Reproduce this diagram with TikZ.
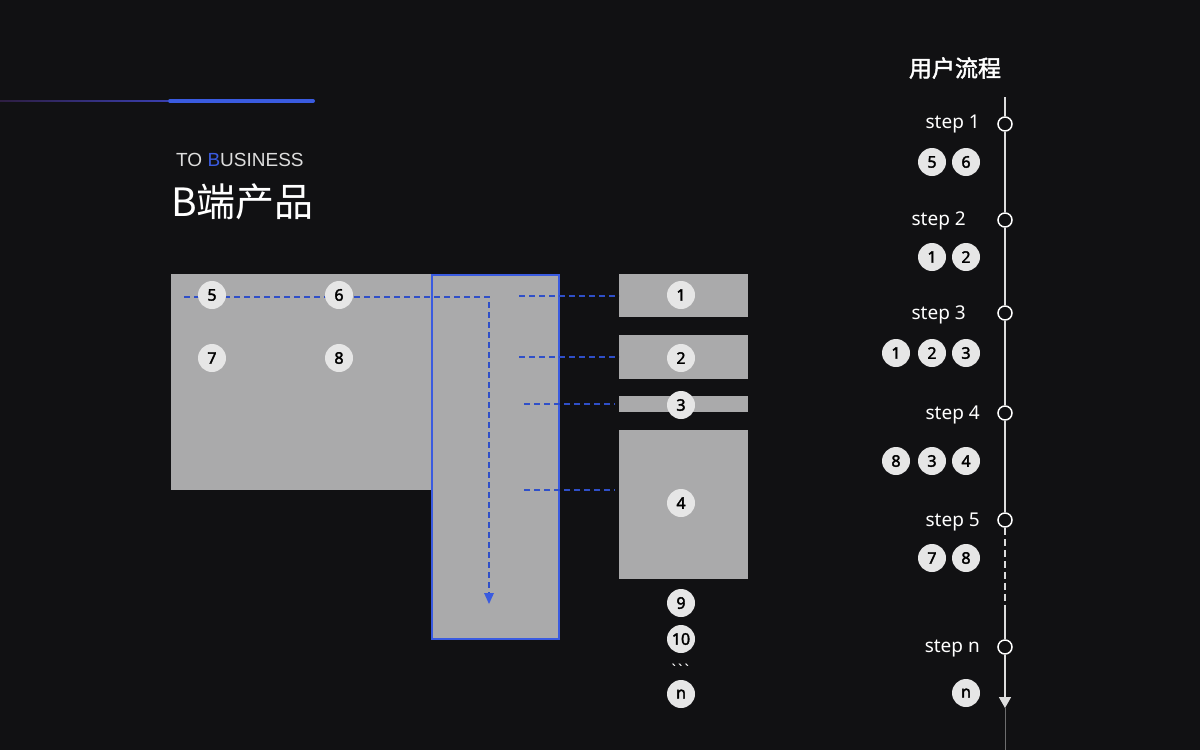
\documentclass[tikz,border=0pt]{standalone}
\usepackage{fontspec}
\setmainfont{Noto Sans}
\newfontfamily\cjk{Noto Sans CJK SC}
\newfontfamily\cjkb{Noto Sans CJK SC}[FakeBold=2]
\newfontfamily\lat{Liberation Sans}
\newfontfamily\plainf{DejaVu Sans}
\newfontfamily\badgef{Noto Sans}[FakeBold=2.2]
\usetikzlibrary{arrows.meta}
\definecolor{bg}{HTML}{111113}
\definecolor{panel}{HTML}{AAAAAB}
\definecolor{edgeblue}{HTML}{3A5BE0}
\definecolor{dashblue}{HTML}{2F4FC8}
\definecolor{badgefill}{HTML}{E6E6E6}
\definecolor{linegray}{HTML}{DDDDDD}
\definecolor{thinpurple}{HTML}{4A2A70}
\definecolor{thinblue}{HTML}{3A3FB0}
\begin{document}
\begin{tikzpicture}[x=1pt,y=-1pt,
  panelbox/.style={fill=panel,draw=none},
  badge/.style={circle,fill=badgefill,draw=none,minimum size=28pt,inner sep=0pt,
    font=\badgef\fontsize{16}{16}\selectfont,text=black},
  flowdash/.style={draw=dashblue,line width=1.3pt,dash pattern=on 6pt off 4pt},
  steplabel/.style={anchor=east,text=white,font=\fontsize{19}{19}\selectfont,inner sep=0pt},
  stepdot/.style={circle,draw=white,line width=1.5pt,fill=bg,minimum size=14pt,inner sep=0pt},
  tl/.style={draw=linegray,line width=1.6pt}]
\useasboundingbox (0,0) rectangle (1200,750);
\fill[bg] (0,0) rectangle (1200,750);

% top accent lines
\shade[left color=thinpurple!50!bg,right color=thinblue] (0,100.2) rectangle (168,101.8);
\draw[edgeblue,line width=4pt,line cap=round] (170,101) -- (313,101);

% title
\node[anchor=west,inner sep=0pt,text=linegray,font=\lat\fontsize{19}{19}\selectfont] (tb) at (176,160) {TO {\color{edgeblue}B}USINESS};
\node[anchor=west,inner sep=0pt,text=white,font=\cjk\fontsize{39}{39}\selectfont] (bt) at (171,202) {B端产品};

% panels
\node[panelbox,minimum width=260pt,minimum height=216pt,anchor=north west,inner sep=0pt] (main) at (171,274) {};
\node[fill=panel,draw=edgeblue,line width=2pt,minimum width=127pt,minimum height=364pt,anchor=north west,inner sep=0pt] (col) at (431,274) {};
\node[panelbox,minimum width=129pt,minimum height=43pt,anchor=north west,inner sep=0pt] (r1) at (619,274) {};
\node[panelbox,minimum width=129pt,minimum height=44pt,anchor=north west,inner sep=0pt] (r2) at (619,335) {};
\node[panelbox,minimum width=129pt,minimum height=16pt,anchor=north west,inner sep=0pt] (r3) at (619,396) {};
\node[panelbox,minimum width=129pt,minimum height=149pt,anchor=north west,inner sep=0pt] (r4) at (619,430) {};

% dashed flow path
\coordinate (fs) at (184,297);
\coordinate (fc) at (489,297);
\coordinate (fe) at (489,604);
\draw[flowdash] (fs) -- (fc) -- ([yshift=6pt]fe);
\draw[draw=none,fill=edgeblue] ([xshift=-5pt,yshift=11pt]fe) -- ([xshift=5pt,yshift=11pt]fe) -- (fe) -- cycle;

% connectors
\coordinate (c1) at (519,296); \coordinate (d1) at (619,296);
\coordinate (c2) at (519,357); \coordinate (d2) at (619,357);
\coordinate (c3) at (524,404); \coordinate (d3) at (615,404);
\coordinate (c4) at (524,490); \coordinate (d4) at (615,490);
\draw[flowdash] (c1) -- (d1);
\draw[flowdash] (c2) -- (d2);
\draw[flowdash] (c3) -- (d3);
\draw[flowdash] (c4) -- (d4);

% badges on panels
\node[badge] (b5) at (212,295) {5};
\node[badge] (b6) at (339,295) {6};
\node[badge] (b7) at (212,358) {7};
\node[badge] (b8) at (339,358) {8};
\node[badge] (b1) at (681,295) {1};
\node[badge] (b2) at (681,358) {2};
\node[badge] (b3) at (681,405) {3};
\node[badge] (b4) at (681,503) {4};
\node[badge] (b9) at (681,603) {9};
\node[badge] (b10) at (681,639) {10};
\node[text=white,inner sep=0pt,font=\plainf\bfseries\fontsize{13}{13}\selectfont] (dots) at (681,669) {```};
\node[badge] (bn) at (681,694) {n};

% timeline
\node[text=white,font=\cjkb\fontsize{23}{23}\selectfont,inner sep=0pt] (tt) at (955,68) {用户流程};
\coordinate (ttop) at (1005,97);
\node[stepdot] (s1) at (1005,124) {};
\node[stepdot] (s2) at (1005,220) {};
\node[stepdot] (s3) at (1005,313) {};
\node[stepdot] (s4) at (1005,413) {};
\node[stepdot] (s5) at (1005,520) {};
\node[stepdot] (s6) at (1005,647) {};
\coordinate (dend) at (1005,610);
\coordinate (tend) at (1005,708);
\coordinate (tbot) at (1005,750);
\draw[tl] (ttop) -- (s1);
\draw[tl] (s1) -- (s2);
\draw[tl] (s2) -- (s3);
\draw[tl] (s3) -- (s4);
\draw[tl] (s4) -- (s5);
\draw[tl,dash pattern=on 7pt off 4pt] (s5) -- (dend);
\draw[tl] (dend) -- (s6);
\draw[tl,-{Triangle[width=12pt,length=11pt]}] (s6) -- (tend);
\draw[draw=linegray!45!bg,line width=1pt] (tend) -- (tbot);

\node[steplabel] (l1) at (980,124) {step 1};
\node[steplabel] (l2) at (966,221) {step 2};
\node[steplabel] (l3) at (966,315) {step 3};
\node[steplabel] (l4) at (980,415) {step 4};
\node[steplabel] (l5) at (980,522) {step 5};
\node[steplabel] (l6) at (980,649) {step n};

\node[badge] (t15) at (932,162) {5};
\node[badge] (t16) at (966,162) {6};
\node[badge] (t21) at (932,257) {1};
\node[badge] (t22) at (966,257) {2};
\node[badge] (t31) at (896,353) {1};
\node[badge] (t32) at (932,353) {2};
\node[badge] (t33) at (966,353) {3};
\node[badge] (t48) at (896,461) {8};
\node[badge] (t43) at (932,461) {3};
\node[badge] (t44) at (966,461) {4};
\node[badge] (t57) at (932,558) {7};
\node[badge] (t58) at (966,558) {8};
\node[badge] (tnn) at (966,693) {n};
\end{tikzpicture}
\end{document}
